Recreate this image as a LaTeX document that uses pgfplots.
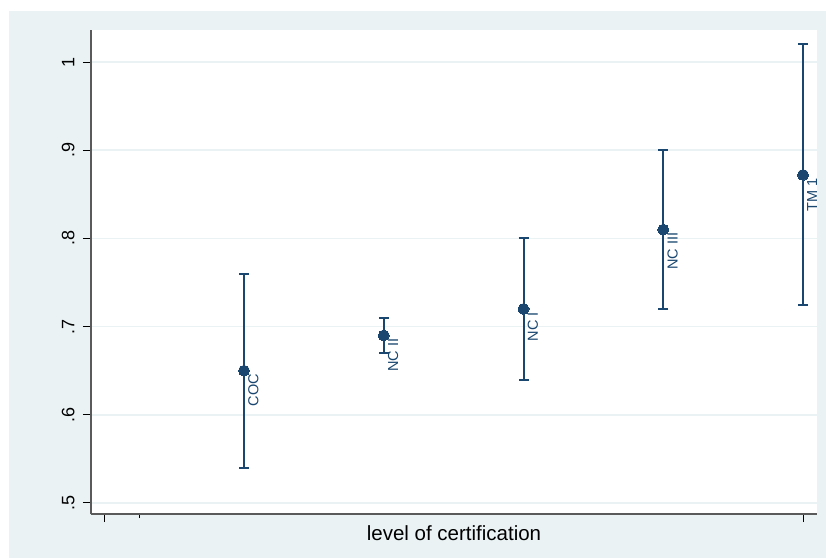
\documentclass[border=0pt]{standalone}
\usepackage{fontspec}
\setmainfont{Liberation Sans}
\usepackage{pgfplots}
\usepackage{pgfplotstable}
\pgfplotsset{compat=1.18}
\definecolor{stbg}{RGB}{234,242,243}
\definecolor{stnavy}{RGB}{26,71,111}
\definecolor{staxis}{RGB}{90,90,90}
\pgfplotstableread{
x y ep em lab
1 0.650 0.110 0.110 {COC}
2 0.690 0.020 0.020 {NC II}
3 0.720 0.080 0.080 {NC I}
4 0.810 0.090 0.090 {NC III}
5 0.872 0.148 0.148 {TM 1}
}\data
\begin{document}
\begin{tikzpicture}
\useasboundingbox (-91pt,-44pt) rectangle (735pt,514pt);
\fill[stbg] (-82pt,-44pt) rectangle (735pt,503pt);
\begin{axis}[
  at={(0pt,0pt)}, anchor=south west,
  scale only axis, width=726pt, height=484pt,
  xmin=-0.095, xmax=5.1, ymin=0.4875, ymax=1.0363,
  axis background/.style={fill=white},
  axis x line*=bottom, axis y line*=left,
  axis line style={staxis, line width=1.2pt, -},
  xtick={0,5}, xticklabels={,},
  minor xtick={0.25},
  ytick={0.5,0.6,0.7,0.8,0.9,1.0},
  tick align=outside,
  major tick length=8pt, minor tick length=4pt,
  every tick/.style={black, line width=1pt},
  ymajorgrids,
  grid style={stbg, line width=1.5pt},
  /pgf/number format/assume math mode=true,
  yticklabel style={/pgf/number format/.cd, fixed, fixed zerofill=false, precision=1, skip 0., /tikz/.cd,
     xshift=-5pt, rotate=90, anchor=south, font=\fontsize{18}{20}\selectfont},
  xlabel={level of certification},
  xlabel style={at={(axis description cs:0.5,0)}, anchor=base, yshift=-26pt, font=\fontsize{20.5}{22}\selectfont},
  clip=false,
]
\addplot[stnavy, only marks, mark=*, mark size=5.5pt,
  mark options={fill=stnavy, draw=stnavy, line width=0pt},
  error bars/.cd, y dir=both, y explicit,
  error bar style={stnavy, line width=2pt},
  error mark options={stnavy, line width=2pt, mark size=5pt, rotate=90},
  ] table[x=x, y=y, y error plus=ep, y error minus=em] {\data};
\addplot[only marks, mark=none,
  nodes near coords, point meta=explicit symbolic,
  every node near coord/.style={xshift=4pt, yshift=-3pt, rotate=90, anchor=north east, inner sep=0pt,
    text=stnavy, font=\fontsize{14.5}{16}\selectfont}
  ] table[x=x, y=y, meta=lab] {\data};
\end{axis}
\end{tikzpicture}
\end{document}
